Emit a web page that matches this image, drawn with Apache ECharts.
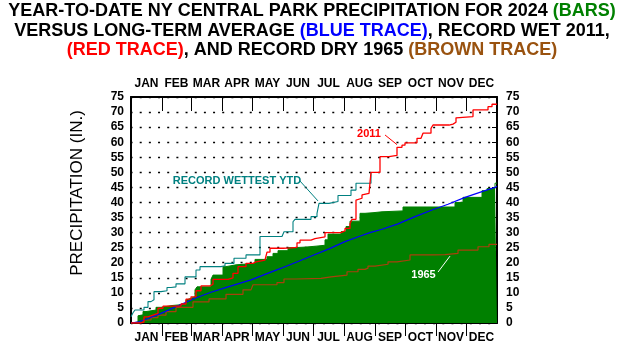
<!DOCTYPE html>
<html><head><meta charset="utf-8">
<script src="https://cdn.jsdelivr.net/npm/echarts@6/dist/echarts.min.js"></script>
<style>html,body{margin:0;padding:0;background:#fff}#c{width:624px;height:352px}</style>
</head><body><div id="c"></div>
<script>
// ---- data (day of year, cumulative inches) ----
const months = ['JAN','FEB','MAR','APR','MAY','JUN','JUL','AUG','SEP','OCT','NOV','DEC'];
const monthDays = [31,29,31,30,31,30,31,31,30,31,30,31];
const yMin = 0, yMax = 75, yStep = 5;

const days2024 = [0,2,7,9,12,15,25,30,41,48,55,57,60,64,66,80,82,92,95,105,124,136,142,147,157,163,175,185,194,197,210,215,219,229,234,242,251,272,324,332,351,356,364,366];
const vals2024 = [0,0.3,2.4,2.7,3.8,4.3,5.2,5.8,6.0,6.6,7.6,8.2,8.7,11.0,12.0,14.5,15.9,18.7,19.3,19.8,21.1,22.0,23.1,24.0,25.0,25.2,25.5,25.8,27.6,29.5,30.3,32.0,33.8,36.4,36.6,36.9,37.2,38.5,40.0,41.7,43.9,44.6,46.4,46.4];

const daysAvg = [0,8,17,30,47,64,80,97,120,136,147,152,167,181,198,214,228,239,251,267,284,301,317,334,351,364,366];
const valsAvg = [0,0.4,1.5,3.2,5.7,8.2,10.2,12.0,14.3,16.4,17.8,18.4,20.4,22.3,24.6,27.0,28.7,30.0,31.1,32.9,35.3,37.5,39.4,41.7,43.6,45.0,45.4];

const days2011 = [0,10,13,17,22,27,32,50,55,60,65,70,79,82,97,102,107,115,122,125,134,136,139,152,160,166,169,180,184,194,210,214,219,221,225,227,231,232,238,240,249,258,266,271,274,286,290,292,300,302,318,322,325,327,342,357,361,366];
const vals2011 = [0,0.3,2.0,2.6,3.2,4.9,5.6,6.3,7.9,8.7,10.7,12.3,12.9,14.5,15.0,16.5,18.7,19.8,20.3,20.9,21.1,23.5,24.8,24.9,25.1,26.6,27.5,28.0,28.6,30.0,30.6,31.4,32.9,34.4,40.8,41.4,42.5,43.0,43.6,50.0,55.2,55.6,58.3,59.0,59.8,61.3,61.8,63.0,64.6,65.7,66.0,66.6,68.1,68.5,70.7,71.8,72.6,72.8];

const daysRec = [0,2,4,13,17,20,23,30,36,40,45,54,65,69,90,94,103,115,129,151,153,162,164,180,186,188,198,207,220,225,240];
const valsRec = [2.1,3.4,4.3,5.2,7.1,7.7,10.4,10.7,11.8,12.0,13.0,15.3,17.6,18.7,19.0,19.8,21.5,22.6,28.7,29.0,30.3,33.6,34.4,35.3,36.4,39.7,40.3,42.3,44.1,46.4,50.0];

const days1965 = [0,8,12,20,27,35,45,62,78,95,112,120,122,146,153,165,190,200,216,227,234,237,244,257,266,279,302,314,327,347,358,366];
const vals1965 = [0,0.2,1.0,1.8,2.6,3.8,5.2,7.0,8.0,9.5,11.0,11.4,12.7,13.4,14.6,14.8,15.3,15.9,17.0,17.8,18.2,18.9,19.5,20.3,20.9,22.6,22.7,23.1,24.2,25.3,26.1,26.1];

const titleLines = [
  [['YEAR-TO-DATE NY CENTRAL PARK PRECIPITATION FOR 2024 ','k'],['(BARS)','g']],
  [['VERSUS LONG-TERM AVERAGE ','k'],['(BLUE TRACE)','b'],[', RECORD WET 2011,','k']],
  [['(RED TRACE)','r'],[', AND RECORD DRY 1965 ','k'],['(BROWN TRACE)','br']]
];
const yTitle = 'PRECIPITATION (IN.)';
const noteWet = 'RECORD WETTEST YTD', note2011 = '2011', note1965 = '1965';

// ---- build ----
const zip = (a,b) => a.map((d,i)=>[d,b[i]]);
const bounds = [], mids = [];
let acc = 0;
monthDays.forEach(n => { mids.push(acc + n/2); acc += n; bounds.push(acc); });
const totalDays = acc;
const monthAt = v => { const i = mids.findIndex(m => Math.abs(m - v) < 0.01); return i >= 0 ? months[i] : ''; };

const FONT = 'Liberation Sans';
const C = {k:'#000', g:'#008000', b:'#0000ff', r:'#ff0000', br:'#99520f', teal:'#008080', brown:'#a8400c'};
const rich = {};
['k','g','b','r','br'].forEach(k => rich[k] = {fontSize:18, fontWeight:'bold', fontFamily:FONT, color:C[k], lineHeight:20});
const titleTops = [1, 21, 40];

const xCommon = {
  type:'value', min:0, max:totalDays,
  axisLine:{show:true, onZero:false, lineStyle:{color:'#000', width:2}},
  splitLine:{show:false},
  axisLabel:{customValues:mids, formatter:v=>monthAt(v), color:'#000', fontSize:12, fontWeight:'bold', fontFamily:FONT},
};
const chart = echarts.init(document.getElementById('c'), null, {renderer:'canvas'});
chart.setOption({
  animation:false,
  backgroundColor:'#fff',
  title: titleLines.map((ln,i)=>({
    text: ln.map(([t,s])=>'{'+s+'|'+t+'}').join(''),
    left:'center', top:titleTops[i], padding:0, itemGap:0,
    textStyle:{rich, fontSize:18, fontWeight:'bold', fontFamily:FONT, lineHeight:20}
  })),
  grid:{left:131, right:127, top:97, bottom:29, containLabel:false},
  xAxis:[
    Object.assign({}, xCommon, {position:'bottom',
      axisTick:{show:true, customValues:bounds.slice(0,11), inside:false, length:13, lineStyle:{color:'#000', width:1}},
      axisLabel:Object.assign({}, xCommon.axisLabel, {margin:9})}),
    Object.assign({}, xCommon, {position:'top',
      axisTick:{show:true, customValues:bounds.slice(0,11), inside:true, length:14, lineStyle:{color:'#000', width:1}},
      axisLabel:Object.assign({}, xCommon.axisLabel, {margin:7})})
  ],
  yAxis:[
    {type:'value', min:yMin, max:yMax, interval:yStep, position:'left',
     axisLine:{show:true, onZero:false, lineStyle:{color:'#000', width:2}},
     axisTick:{show:false},
     axisLabel:{color:'#000', fontSize:12, fontWeight:'bold', fontFamily:FONT, margin:7},
     splitLine:{show:true, lineStyle:{color:'#000', width:1.3, type:[2,7.17], dashOffset:0.47}}},
    {type:'value', min:yMin, max:yMax, interval:yStep, position:'right',
     axisLine:{show:true, onZero:false, lineStyle:{color:'#000', width:2}},
     axisTick:{show:true, inside:true, length:5, lineStyle:{color:'#000', width:1}},
     axisLabel:{color:'#000', fontSize:12, fontWeight:'bold', fontFamily:FONT, margin:9},
     splitLine:{show:false}}
  ],
  series:[
    {name:'2024', type:'line', step:'end', data:zip(days2024, vals2024), showSymbol:false, symbol:'none', z:1,
     lineStyle:{color:C.g, width:1}, areaStyle:{color:C.g, opacity:1}},
    {name:'Record', type:'line', step:'end', data:zip(daysRec, valsRec), symbol:'none', z:2,
     lineStyle:{color:C.teal, width:1.1}},
    {name:'1965', type:'line', step:'end', data:zip(days1965, vals1965), symbol:'none', z:3,
     lineStyle:{color:C.brown, width:1.2}},
    {name:'Average', type:'line', data:zip(daysAvg, valsAvg), symbol:'none', z:4,
     lineStyle:{color:C.b, width:1.2}},
    {name:'2011', type:'line', step:'end', data:zip(days2011, vals2011), symbol:'none', z:5,
     lineStyle:{color:C.r, width:1.3}}
  ]
});

const px = (d,v) => chart.convertToPixel({xAxisIndex:0, yAxisIndex:0}, [d,v]);
const noteText = (txt, d, v, color) => { const p = px(d,v); return {type:'text', z:20, style:{text:txt, x:p[0], y:p[1], align:'center', verticalAlign:'middle', fill:color, font:'bold 11px "'+FONT+'"'}}; };
const noteLine = (d1,v1,d2,v2,color) => { const a = px(d1,v1), b = px(d2,v2); return {type:'line', z:20, shape:{x1:a[0],y1:a[1],x2:b[0],y2:b[1]}, style:{stroke:color, lineWidth:1}}; };
chart.setOption({graphic:[
  {type:'text', z:20, x:77, y:193, rotation:Math.PI/2, style:{text:yTitle, x:0, y:0, align:'center', verticalAlign:'middle', fill:'#000', font:'17px "'+FONT+'"'}},
  noteText(noteWet, 106, 47.1, C.teal),
  noteLine(168.5, 47.3, 187, 40.5, C.teal),
  noteText(note2011, 238, 62.6, C.r),
  noteLine(254, 62.4, 266, 59.2, C.r),
  noteText(note1965, 292.5, 15.9, '#fff'),
  noteLine(307, 16.9, 319, 22.2, '#fff')
]});
</script>
</body></html>
